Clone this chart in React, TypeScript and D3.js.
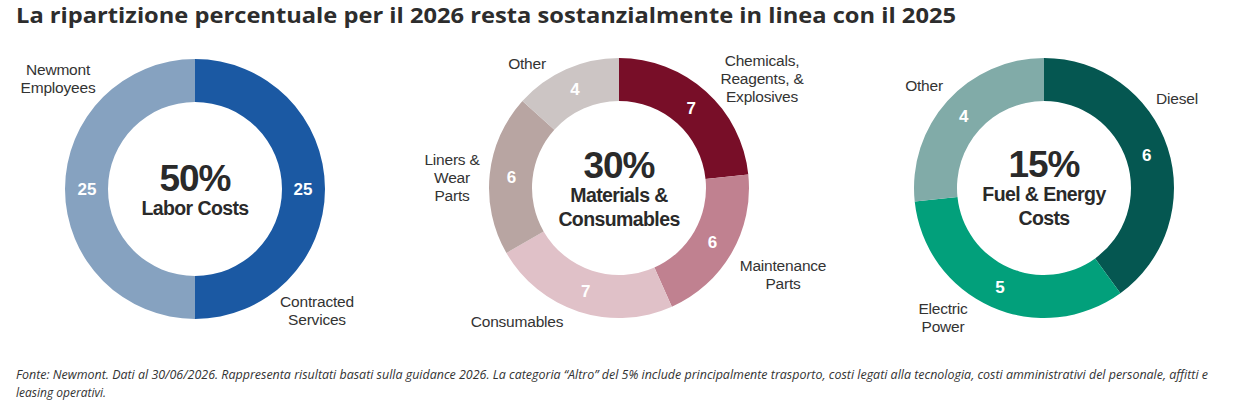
import * as d3 from "d3";
import { useRef, useEffect } from "react";

// --- data ---
const laborCategories = ["Contracted|Services", "Newmont|Employees"];
const laborValues = [25, 25];

const materialsCategories = [
    "Chemicals,|Reagents, &|Explosives",
    "Maintenance|Parts",
    "Consumables",
    "Liners &|Wear|Parts",
    "Other",
];
const materialsValues = [7, 6, 7, 6, 4];

const fuelCategories = ["Diesel", "Electric|Power", "Other"];
const fuelValues = [6, 5, 4];

const centerTitles = ["Labor Costs", "Materials &|Consumables", "Fuel & Energy|Costs"];

const titleText = "La ripartizione percentuale per il 2026 resta sostanzialmente in linea con il 2025";
const noteLines = [
    "Fonte: Newmont. Dati al 30/06/2026. Rappresenta risultati basati sulla guidance 2026. La categoria \u201cAltro\u201d del 5% include principalmente trasporto, costi legati alla tecnologia, costi amministrativi del personale, affitti e",
    "leasing operativi.",
];

// --- styles / layout ---
const laborColors = ["#1b59a3", "#86a2c0"];
const materialsColors = ["#780e28", "#c08190", "#e0c1c8", "#b8a5a2", "#ccc5c4"];
const fuelColors = ["#055751", "#02a07b", "#81aba8"];

// label block offsets from donut centre (x = block centre, y = first baseline)
const laborLabelPos = [[122, 118], [-137, -114]];
const materialsLabelPos = [[143, -122], [164, 83], [-102, 139], [-167, -23], [-92, -119]];
const fuelLabelPos = [[133, -84], [-101, 126], [-120, -97]];

const WIDTH = 1241;
const HEIGHT = 412;
const OUTER = 130;
const INNER = 87;
const SANS = "'Liberation Sans', Arial, Helvetica, sans-serif";

type DonutSpec = {
    cx: number;
    cy: number;
    categories: string[];
    values: number[];
    colors: string[];
    labelPos: number[][];
    center: string;
    centerY: number;
};

const donuts: DonutSpec[] = [
    { cx: 195, cy: 189, categories: laborCategories, values: laborValues, colors: laborColors, labelPos: laborLabelPos, center: centerTitles[0], centerY: 191 },
    { cx: 619, cy: 188, categories: materialsCategories, values: materialsValues, colors: materialsColors, labelPos: materialsLabelPos, center: centerTitles[1], centerY: 178 },
    { cx: 1044, cy: 188, categories: fuelCategories, values: fuelValues, colors: fuelColors, labelPos: fuelLabelPos, center: centerTitles[2], centerY: 177 },
];

export default function App() {
    const chartRef = useRef<SVGGElement>(null);

    useEffect(() => {
        const root = d3.select(chartRef.current);
        root.selectAll("*").remove();

        const pie = d3.pie<number>().sort(null).value(d => d);
        const arc = d3.arc<d3.PieArcDatum<number>>().innerRadius(INNER).outerRadius(OUTER);
        const mid = d3.arc<d3.PieArcDatum<number>>().innerRadius(108).outerRadius(108);

        donuts.forEach(spec => {
            const g = root.append("g").attr("transform", `translate(${spec.cx},${spec.cy})`);
            const arcs = pie(spec.values);

            g.selectAll("path.slice")
                .data(arcs)
                .join("path")
                .attr("class", "slice")
                .attr("d", arc)
                .attr("fill", (_, i) => spec.colors[i]);

            // values on the ring
            g.selectAll("text.value")
                .data(arcs)
                .join("text")
                .attr("class", "value")
                .attr("x", d => mid.centroid(d)[0])
                .attr("y", d => mid.centroid(d)[1])
                .attr("dy", "0.35em")
                .attr("text-anchor", "middle")
                .attr("fill", "#fff")
                .attr("font-family", SANS)
                .attr("font-weight", 700)
                .attr("font-size", 17)
                .text(d => d.data);

            // category labels
            spec.categories.forEach((name, i) => {
                const [dx, dy] = spec.labelPos[i];
                const t = g.append("text")
                    .attr("text-anchor", "middle")
                    .attr("fill", "#333")
                    .attr("font-family", SANS)
                    .attr("font-size", 15.5)
                    .attr("letter-spacing", -0.2);
                name.split("|").forEach((line, j) => {
                    t.append("tspan").attr("x", dx).attr("y", dy + j * 18).text(line);
                });
            });

            // centre text
            const total = d3.sum(spec.values);
            const base = spec.centerY - spec.cy;
            g.append("text")
                .attr("text-anchor", "middle")
                .attr("y", base)
                .attr("fill", "#2a2a2a")
                .attr("font-family", SANS)
                .attr("font-weight", 700)
                .attr("font-size", 37)
                .attr("letter-spacing", -1)
                .text(`${total}%`);
            const ct = g.append("text")
                .attr("text-anchor", "middle")
                .attr("fill", "#2a2a2a")
                .attr("font-family", SANS)
                .attr("font-weight", 700)
                .attr("font-size", 19.5)
                .attr("letter-spacing", -0.6);
            spec.center.split("|").forEach((line, j) => {
                ct.append("tspan").attr("x", 0).attr("y", base + 24 + j * 24).text(line);
            });
        });
    }, []);

    return (
        <svg
            width={WIDTH}
            height={HEIGHT}
            viewBox={`0 0 ${WIDTH} ${HEIGHT}`}
            style={{ position: "absolute", left: 0, top: 0, background: "#fff" }}
        >
            <text
                x={16}
                y={23}
                fontFamily="'Open Sans', sans-serif"
                fontWeight={700}
                fontSize={22}
                fill="#2d2d2d"
                textLength={940}
                lengthAdjust="spacingAndGlyphs"
            >
                {titleText}
            </text>
            <g ref={chartRef}></g>
            {noteLines.map((line, i) => (
                <text
                    key={i}
                    x={16}
                    y={379 + i * 18}
                    fontFamily="'Open Sans', sans-serif"
                    fontStyle="italic"
                    fontSize={12}
                    fill="#333"
                    textLength={i === 0 ? 1192 : undefined}
                    lengthAdjust="spacingAndGlyphs"
                >
                    {line}
                </text>
            ))}
        </svg>
    );
}
